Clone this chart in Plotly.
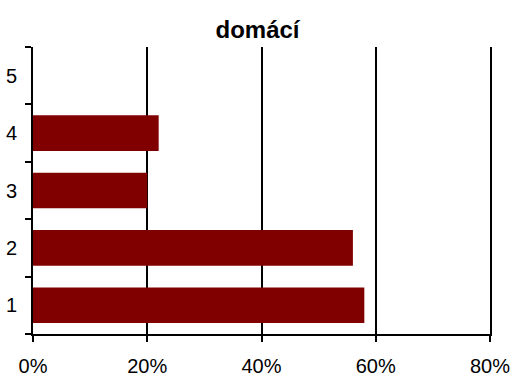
import plotly.graph_objects as go

categories = ["1", "2", "3", "4", "5"]
values = [0.58, 0.56, 0.20, 0.22, 0.0]
x_ticks = [0, 0.2, 0.4, 0.6, 0.8]
x_tick_labels = ["0%", "20%", "40%", "60%", "80%"]
title = "domácí"

fig = go.Figure(
    go.Bar(
        y=categories,
        x=values,
        orientation="h",
        marker=dict(color="#800000", line=dict(width=0)),
        width=0.62,
    )
)

fig.update_layout(
    width=513,
    height=376,
    margin=dict(l=33, r=23, t=47, b=42, autoexpand=False),
    paper_bgcolor="white",
    plot_bgcolor="white",
    showlegend=False,
    font=dict(family="Liberation Sans, Arial, sans-serif", size=20, color="black"),
    title=dict(
        text="<b>" + title + "</b>",
        x=0.502,
        xanchor="center",
        y=1 - 30 / 376,
        yanchor="middle",
        font=dict(size=24, color="black"),
    ),
)

fig.update_xaxes(
    range=[0, 0.8],
    tickvals=x_ticks,
    ticktext=x_tick_labels,
    automargin=False,
    showgrid=True,
    gridcolor="black",
    gridwidth=2,
    showline=True,
    linecolor="black",
    linewidth=2,
    ticks="outside",
    ticklen=6,
    tickwidth=2,
    tickcolor="black",
    ticklabelstandoff=7,
    zeroline=False,
)

fig.update_yaxes(
    type="category",
    categoryorder="array",
    categoryarray=categories,
    range=[-0.5, 4.5],
    automargin=False,
    tickson="boundaries",
    showgrid=False,
    showline=True,
    mirror=True,
    linecolor="black",
    linewidth=2,
    ticks="outside",
    ticklen=6,
    tickwidth=2,
    tickcolor="black",
    ticklabelstandoff=10,
    zeroline=False,
)

fig.write_html(
    "out.html",
    config={"displayModeBar": False},
    post_script="document.body.style.margin='0';document.body.style.overflow='hidden';",
)
